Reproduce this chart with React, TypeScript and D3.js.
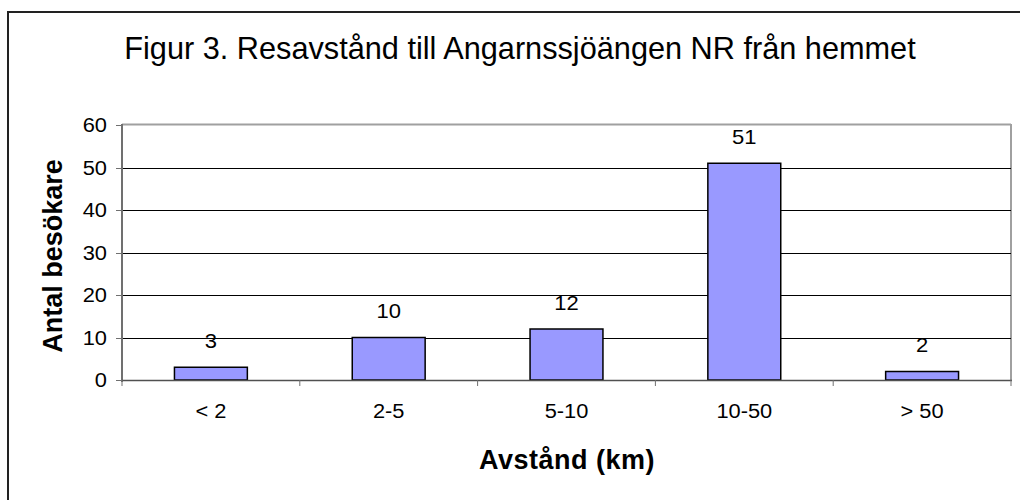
import React from "react";
import * as d3 from "d3";

const categories = ["< 2", "2-5", "5-10", "10-50", "> 50"];
const values = [3, 10, 12, 51, 2];
const yTicks = [0, 10, 20, 30, 40, 50, 60];
const title = "Figur 3. Resavstånd till Angarnssjöängen NR från hemmet";
const xTitle = "Avstånd (km)";
const yTitle = "Antal besökare";

const W = 1020;
const H = 500;
const plot = { left: 122, right: 1011, top: 125, bottom: 380 };
const FONT = "'Liberation Sans', Arial, Helvetica, sans-serif";

export default function App() {
  const x = d3.scaleBand<string>().domain(categories).range([plot.left, plot.right]).padding(0);
  const y = d3.scaleLinear().domain([0, 60]).range([plot.bottom, plot.top]);
  const bw = x.bandwidth() * 0.41;
  const boundaries = d3.range(categories.length + 1).map((i) => plot.left + i * x.bandwidth());

  return (
    <svg width={W} height={H} style={{ position: "absolute", left: 0, top: 0, background: "#fff" }} fontFamily={FONT}>
      <rect x={0} y={0} width={W} height={H} fill="#fff" />
      <rect x={8} y={12} width={1200} height={700} fill="none" stroke="#222" strokeWidth={2} />
      <text x={520} y={59} textAnchor="middle" fontSize={30.7} fill="#000">{title}</text>

      {/* plot border */}
      <line x1={plot.left} x2={plot.right} y1={plot.top - 0.5} y2={plot.top - 0.5} stroke="#a0a0a0" strokeWidth={2} />
      <line x1={plot.right} x2={plot.right} y1={plot.top - 1} y2={plot.bottom} stroke="#a0a0a0" strokeWidth={2} />

      {/* gridlines */}
      {yTicks.filter((t) => t > 0 && t < 60).map((t) => (
        <line key={t} x1={plot.left} x2={plot.right} y1={Math.round(y(t)) + 0.5} y2={Math.round(y(t)) + 0.5} stroke="#000" strokeWidth={1} />
      ))}

      {/* y axis */}
      <line x1={plot.left} x2={plot.left} y1={plot.top - 1} y2={plot.bottom + 2} stroke="#707070" strokeWidth={2} />
      {yTicks.map((t) => (
        <g key={t}>
          <line x1={plot.left - 6} x2={plot.left} y1={Math.round(y(t)) + 0.5} y2={Math.round(y(t)) + 0.5} stroke="#707070" strokeWidth={1} />
          <text transform={`translate(${plot.left - 15},${y(t) + 7}) scale(1.12,1)`} textAnchor="end" fontSize={19.5} fill="#000">{t}</text>
        </g>
      ))}

      {/* bars */}
      {categories.map((c, i) => {
        const cx = (x(c) as number) + x.bandwidth() / 2;
        const top = y(values[i]);
        return (
          <g key={c}>
            <rect x={cx - bw / 2} y={top} width={bw} height={plot.bottom - top} fill="#9999ff" stroke="#000" strokeWidth={1.5} />
            <text transform={`translate(${cx},${top - 19.5}) scale(1.1,1)`} textAnchor="middle" fontSize={20} fill="#000">{values[i]}</text>
            <text transform={`translate(${cx},${418}) scale(1.12,1)`} textAnchor="middle" fontSize={19.5} fill="#000">{c}</text>
          </g>
        );
      })}

      {/* x axis */}
      <line x1={plot.left} x2={plot.right + 1} y1={plot.bottom + 0.5} y2={plot.bottom + 0.5} stroke="#505050" strokeWidth={1.5} />
      {boundaries.map((b, i) => (
        <line key={i} x1={b} x2={b} y1={plot.bottom} y2={plot.bottom + 6} stroke="#707070" strokeWidth={1} />
      ))}

      <text x={567} y={469} textAnchor="middle" fontSize={27} fontWeight="bold" fill="#000" letterSpacing={0.5}>{xTitle}</text>
      <text transform={`translate(62,256) rotate(-90)`} textAnchor="middle" fontSize={27} fontWeight="bold" fill="#000">{yTitle}</text>
    </svg>
  );
}
